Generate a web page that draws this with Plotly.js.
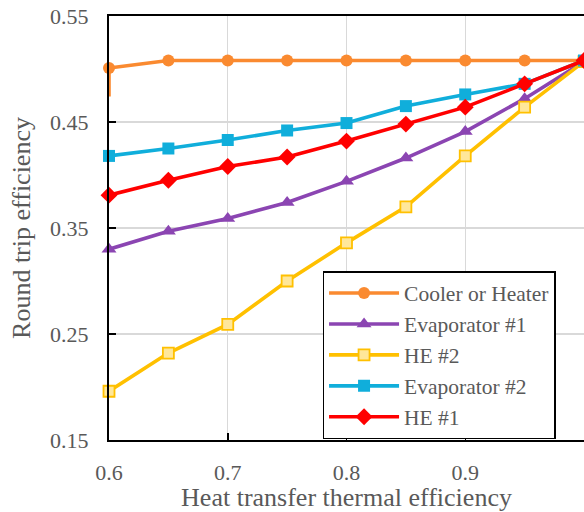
<!DOCTYPE html>
<html>
<head>
<meta charset="utf-8">
<script src="https://cdn.plot.ly/plotly-3.0.1.min.js"></script>
<style>html,body{margin:0;padding:0;overflow:hidden;background:#fff}</style>
</head>
<body>
<div id="chart" style="width:584px;height:512px"></div>
<script>
var efficiency = [0.6, 0.65, 0.7, 0.75, 0.8, 0.85, 0.9, 0.95, 1.0];
var coolerHeater = [0.501, 0.508, 0.508, 0.508, 0.508, 0.508, 0.508, 0.508, 0.508];
var coolerStubX = [0.6, 0.6];
var coolerStubY = [0.474, 0.501];
var evaporator1 = [0.330, 0.347, 0.359, 0.374, 0.394, 0.416, 0.441, 0.472, 0.507];
var he2 = [0.196, 0.232, 0.259, 0.300, 0.336, 0.370, 0.418, 0.464, 0.507];
var evaporator2 = [0.418, 0.425, 0.433, 0.442, 0.449, 0.465, 0.476, 0.486, 0.508];
var he1 = [0.381, 0.395, 0.408, 0.417, 0.432, 0.448, 0.464, 0.486, 0.508];
var xTicks = [0.6, 0.7, 0.8, 0.9];
var yTicks = [0.15, 0.25, 0.35, 0.45, 0.55];
var seriesNames = ['Cooler or Heater', 'Evaporator #1', 'HE #2', 'Evaporator #2', 'HE #1'];

var FAM = 'Liberation Serif';
var LW = 3.6;
var traces = [
  {x: coolerStubX, y: coolerStubY, mode: 'lines', showlegend: false, hoverinfo: 'skip',
   line: {color: '#FA8A30', width: LW}},
  {x: efficiency, y: coolerHeater, name: seriesNames[0], mode: 'lines+markers', cliponaxis: false,
   line: {color: '#FA8A30', width: LW}, marker: {symbol: 'circle', size: 12, color: '#FA8A30'}},
  {x: efficiency, y: evaporator1, name: seriesNames[1], mode: 'lines+markers', cliponaxis: false,
   line: {color: '#8B45B2', width: LW}, marker: {symbol: 'triangle-up', size: 13, color: '#8B45B2'}},
  {x: efficiency, y: he2, name: seriesNames[2], mode: 'lines+markers', cliponaxis: false,
   line: {color: '#FFC000', width: LW}, marker: {symbol: 'square', size: 11, color: '#FFE79A', line: {color: '#FFC000', width: 1.8}}},
  {x: efficiency, y: evaporator2, name: seriesNames[3], mode: 'lines+markers', cliponaxis: false,
   line: {color: '#10AEDB', width: LW}, marker: {symbol: 'square', size: 12, color: '#10AEDB'}},
  {x: efficiency, y: he1, name: seriesNames[4], mode: 'lines+markers', cliponaxis: false,
   line: {color: '#FF0000', width: LW}, marker: {symbol: 'diamond', size: 13, color: '#FF0000'}}
];

var gray = '#595959';
var layout = {
  width: 584, height: 512,
  margin: {l: 109, r: 0, t: 16, b: 72},
  paper_bgcolor: '#fff', plot_bgcolor: '#fff',
  font: {family: FAM, color: gray, size: 22},
  xaxis: {
    range: [0.6, 1.0], tickvals: xTicks, ticktext: xTicks.map(function(v){return v.toFixed(1);}),
    showgrid: true, gridcolor: '#D9D9D9', gridwidth: 1.3,
    showline: true, linecolor: '#000', linewidth: 2, mirror: true,
    ticks: 'inside', ticklen: 7, tickwidth: 1.5, tickcolor: '#000',
    ticklabelstandoff: 12, zeroline: false, automargin: true,
    tickfont: {family: FAM, size: 22, color: gray},
    title: {text: 'Heat transfer thermal efficiency', font: {family: FAM, size: 26, color: gray}, standoff: 8}
  },
  yaxis: {
    range: [0.15, 0.55], tickvals: yTicks, ticktext: yTicks.map(function(v){return v.toFixed(2);}),
    showgrid: true, gridcolor: '#D9D9D9', gridwidth: 1.3,
    showline: true, linecolor: '#000', linewidth: 2, mirror: false,
    ticks: 'inside', ticklen: 7, tickwidth: 1.5, tickcolor: '#000',
    ticklabelstandoff: 14, zeroline: false, automargin: true,
    tickfont: {family: FAM, size: 22, color: gray},
    title: {text: 'Round trip efficiency', font: {family: FAM, size: 26, color: gray}, standoff: 12}
  },
  legend: {
    x: 0.45, y: 0.398, xanchor: 'left', yanchor: 'top',
    bgcolor: '#fff', bordercolor: '#000', borderwidth: 1.3,
    font: {family: FAM, size: 21.5, color: gray}, itemwidth: 70, tracegroupgap: 0
  },
  showlegend: true
};

Plotly.newPlot('chart', traces, layout, {displayModeBar: false, staticPlot: true});
</script>
</body>
</html>
